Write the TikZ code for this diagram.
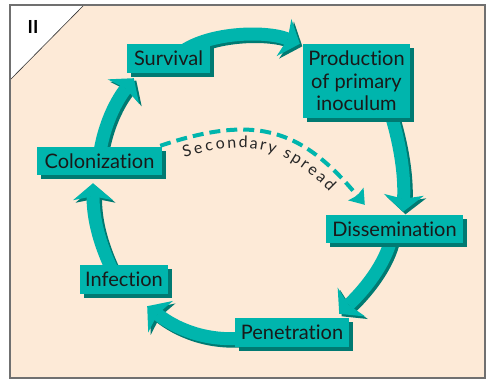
\documentclass[tikz,border=0pt]{standalone}
\usepackage{fontspec}
\setsansfont{Lato}[Ligatures=NoCommon]
\usetikzlibrary{arrows.meta, shadows, backgrounds, decorations.text}
\definecolor{cteal}{HTML}{00B5AD}
\definecolor{cshade}{HTML}{007A72}
\definecolor{cpeach}{HTML}{FDEAD7}
\definecolor{cframe}{HTML}{707070}
\tikzset{
  every picture/.style={font=\sffamily},
  stage/.style={fill=cteal, text=black!90, align=center, inner sep=2pt, minimum height=29pt,
                font=\sffamily\fontsize{20}{22.5}\selectfont,
                drop shadow={shadow xshift=3.5pt, shadow yshift=-3.5pt, fill=cshade, opacity=1}},
  flow/.style={draw=cteal, line width=13pt,
               -{Stealth[length=17pt, width=40pt, inset=4pt, line width=0pt]}},
  spread/.style={draw=cteal, line width=4pt, dash pattern=on 11pt off 6pt,
                 -{Stealth[length=14pt, width=20pt, inset=2pt, line width=0pt]}},
}

\begin{document}
\begin{tikzpicture}[x=1pt, y=-1pt]
  \useasboundingbox (0,0) rectangle (486,380);
  \newcommand{\cyclearrow}[1]{% path ; shadow first, then arrow
    \draw[flow, draw=cshade, transform canvas={shift={(2.5pt,-2.5pt)}}] #1;
    \draw[flow] #1;}
  % stages of the cycle
  \node[stage, minimum width=83pt] (surv) at (168.5,58.5) {Survival};
  \node[stage, minimum width=107pt, minimum height=74pt] (prod) at (356.5,81) {Production\\of primary\\inoculum};
  \node[stage, minimum width=125pt, minimum height=28pt] (colon) at (99.5,161) {Colonization};
  \node[stage, minimum width=137pt, minimum height=28pt] (diss) at (394.5,229) {Dissemination};
  \node[stage, minimum width=88pt] (inf) at (124,279.5) {Infection};
  \node[stage, minimum width=114pt] (pen) at (292,332.5) {Penetration};
  \node[font=\sffamily\bfseries\fontsize{18}{18}\selectfont] (tag) at (33,27) {II};
  \begin{scope}[on background layer]
    \fill[cpeach] (10,5) rectangle (485,378);
    \filldraw[fill=white, draw=black!80, line width=0.6pt] (10,5) -- (84,5) -- (10,80) -- cycle;
    \draw[cframe, line width=1.3pt] (10,5) rectangle (485,378);
    % arrows between stages
    \cyclearrow{([xshift=10pt, yshift=4pt]surv.center) .. controls (205,32) and (265,30) .. ([xshift=-3pt]prod.north west)}
    \cyclearrow{([xshift=31.5pt, yshift=13pt]prod.south) .. controls (398,135) and (405,170) .. ([xshift=8.5pt, yshift=3pt]diss.north)}
    \cyclearrow{([xshift=-2.5pt, yshift=-6pt]diss.center) .. controls (386,265) and (362,292) .. ([xshift=-10pt, yshift=4pt]pen.north east)}
    \cyclearrow{([xshift=10pt, yshift=-5.5pt]pen.west) .. controls (205,342) and (175,328) .. ([xshift=-21pt, yshift=-12pt]inf.south east)}
    \cyclearrow{([xshift=-11pt, yshift=7.5pt]inf.center) .. controls (100,245) and (93,220) .. ([xshift=-6.5pt, yshift=-8pt]colon.south)}
    \cyclearrow{([yshift=6pt]colon.center) .. controls (103,130) and (113,105) .. ([xshift=7pt, yshift=-5pt]surv.south west)}
    % secondary spread
    \draw[spread, postaction={decorate, decoration={text along path, raise=-18pt,
          text align={fit to path, left indent=20pt, right indent=34pt}, text color=black!85,
          text={|\sffamily\fontsize{16}{16}\selectfont|Secondary spread}}}]
      ([xshift=-2pt, yshift=1pt]colon.north east) .. controls (255,114) and (301,128)
      .. ([xshift=39pt, yshift=10pt]diss.north west);
  \end{scope}
\end{tikzpicture}
\end{document}
